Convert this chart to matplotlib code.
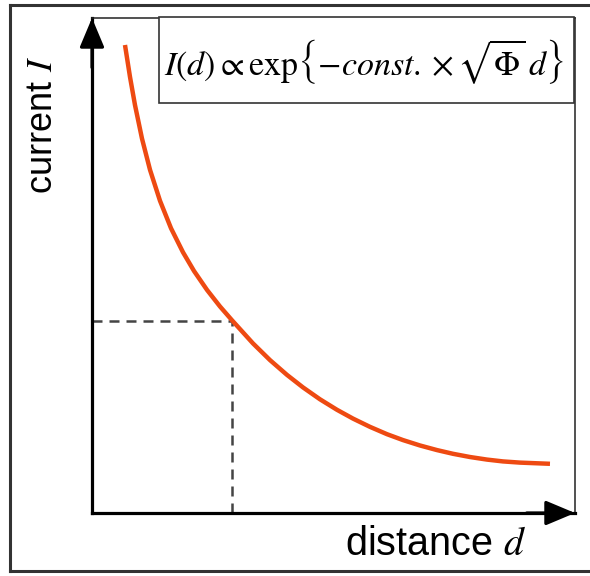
import matplotlib
matplotlib.use("Agg")
import matplotlib.pyplot as plt
from matplotlib.lines import Line2D
from matplotlib.patches import Rectangle

plt.rcParams['mathtext.fontset'] = 'stix'
plt.rcParams['font.family'] = ['Liberation Sans', 'DejaVu Sans']

# Data (arbitrary units)
distance = [0.683, 0.787, 0.890, 1.035, 1.201, 1.408, 1.636, 1.884, 2.112,
            2.381, 2.650, 2.899, 3.333, 3.685, 4.037, 4.369, 4.720, 5.072,
            5.404, 5.756, 6.108, 6.439, 6.791, 7.143, 7.474, 7.826, 8.178,
            8.509, 8.861, 9.482]
current = [9.455, 8.808, 8.242, 7.564, 6.933, 6.307, 5.752, 5.267, 4.889,
           4.507, 4.172, 3.893, 3.426, 3.089, 2.790, 2.537, 2.297, 2.085,
           1.907, 1.740, 1.592, 1.473, 1.364, 1.271, 1.196, 1.131, 1.079,
           1.042, 1.018, 0.994]
d_mark = 2.90
I_mark = 3.88

xlabel = r"distance $d$"
ylabel = r"current $I$"
formula = r"$I(d)\propto\mathrm{exp}\left\{-const.\times\sqrt{\Phi}\,d\right\}$"

W, H = 590, 576
fig = plt.figure(figsize=(W / 100, H / 100), dpi=100)
ax = fig.add_axes([92 / W, 1 - 513 / H, 483 / W, 495 / H])
ax.set_xlim(0, 10)
ax.set_ylim(0, 10)
ax.set_xticks([])
ax.set_yticks([])

for s in ['left', 'bottom']:
    ax.spines[s].set_linewidth(2.3)
    ax.spines[s].set_color('black')
for s in ['top', 'right']:
    ax.spines[s].set_linewidth(1.1)
    ax.spines[s].set_color('#222222')

# arrows on axes
for xy, xyt in [((0, 1), (0, 0.9)), ((1, 0), (0.9, 0))]:
    ax.annotate('', xy=xy, xytext=xyt, xycoords='axes fraction',
                arrowprops=dict(arrowstyle='-|>,head_length=1.0,head_width=0.42',
                                mutation_scale=18, color='black', lw=2.3,
                                shrinkA=0, shrinkB=0))

# curve
ax.plot(distance, current, color='#EE4A12', lw=3.2, solid_capstyle='butt',
        solid_joinstyle='round', zorder=3)

# dashed guide lines
ax.plot([0, d_mark], [I_mark, I_mark], color='#444444', lw=1.8,
        dashes=(4, 2.8), zorder=2)
ax.plot([d_mark, d_mark], [0, I_mark], color='#444444', lw=1.8,
        dashes=(4, 2.8), zorder=2)

# formula box
bx0, by0, bx1, by1 = 159, 17, 574, 103
fig.patches.append(Rectangle((bx0 / W, 1 - by1 / H), (bx1 - bx0) / W,
                             (by1 - by0) / H, transform=fig.transFigure,
                             fill=True, facecolor='white', edgecolor='#333333',
                             lw=1.2, zorder=5))
fig.text((bx0 + bx1) / 2 / W - 0.004, 1 - 62 / H, formula, ha='center',
         va='center', fontsize=24.5, zorder=6)

# axis labels
fig.text(42 / W, 1 - 125 / H, ylabel, rotation=90, ha='center', va='center',
         fontsize=26)
fig.text(436 / W, 1 - 544 / H, xlabel, ha='center', va='center',
         fontsize=28.5)

# outer border
for (x0, y0, x1, y1) in [(10, 5, 10, 571), (10, 5, 600, 5), (10, 571, 600, 571)]:
    fig.lines.append(Line2D([x0 / W, x1 / W], [1 - y0 / H, 1 - y1 / H],
                            transform=fig.transFigure, color='#333333',
                            lw=2.2))

fig.savefig('out.png', dpi=100, facecolor='white')
